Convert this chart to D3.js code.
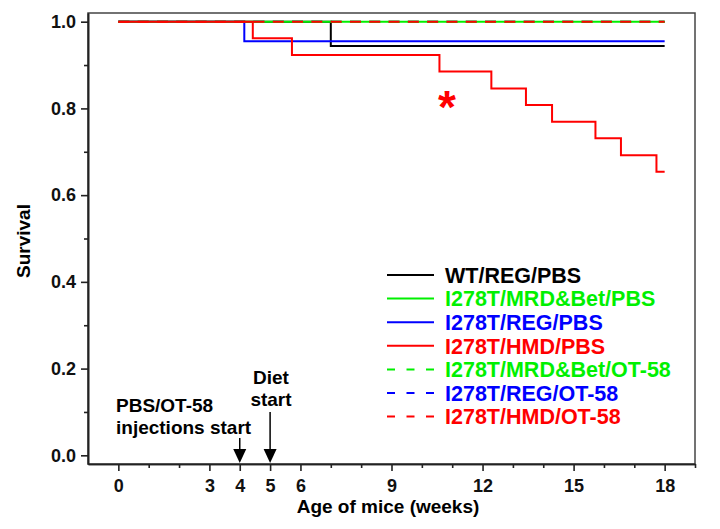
<!DOCTYPE html>
<meta charset="utf-8">
<style>
body { margin: 0; background: #fff; }
svg { font-family: "Liberation Sans", Arial, sans-serif; font-weight: bold; }
.axis text { font: bold 18px "Liberation Sans", Arial, sans-serif; fill: #111; }
.axis path, .axis line { stroke: #222; stroke-width: 1.6; }
.curve { fill: none; stroke-width: 2; }
</style>
<svg width="720" height="529"></svg>
<script src="https://cdn.jsdelivr.net/npm/d3@7"></script>
<script>

// weeks at which each curve steps, and survival after each step
var wtRegPbsT = [0, 7.0, 18],
    wtRegPbsS = [1, 0.944, 0.944];
var mrdPbsT = [0, 18],
    mrdPbsS = [1, 1];
var regPbsT = [0, 4.15, 18],
    regPbsS = [1, 0.955, 0.955];
var hmdPbsT = [0, 4.43, 5.72, 10.58, 12.29, 13.43, 14.29, 15.72, 16.56, 17.73, 18],
    hmdPbsS = [1, 0.962, 0.923, 0.885, 0.846, 0.808, 0.769, 0.731, 0.692, 0.654, 0.654];
var mrdOtT = [0, 18],
    mrdOtS = [1, 1];
var regOtT = [0, 18],
    regOtS = [1, 1];
var hmdOtT = [0, 18],
    hmdOtS = [1, 1];

var groupNames = ["WT/REG/PBS", "I278T/MRD&Bet/PBS", "I278T/REG/PBS", "I278T/HMD/PBS",
                  "I278T/MRD&Bet/OT-58", "I278T/REG/OT-58", "I278T/HMD/OT-58"];
var groupColors = ["#000000", "#00f000", "#0000ff", "#ff0000", "#00f000", "#0000ff", "#ff0000"];
var groupDashed = [false, false, false, false, true, true, true];

var xTickLabels = [0, 3, 4, 5, 6, 9, 12, 15, 18],
    yTickLabels = [0, 0.2, 0.4, 0.6, 0.8, 1.0];

var series = [
  {i: 0, t: wtRegPbsT, s: wtRegPbsS},
  {i: 1, t: mrdPbsT, s: mrdPbsS},
  {i: 2, t: regPbsT, s: regPbsS},
  {i: 3, t: hmdPbsT, s: hmdPbsS},
  {i: 4, t: mrdOtT, s: mrdOtS},
  {i: 5, t: regOtT, s: regOtS},
  {i: 6, t: hmdOtT, s: hmdOtS}
];
// draw order so the overlapping lines at 1.0 look like the original
var drawOrder = [0, 2, 5, 4, 1, 3, 6];

var svg = d3.select("svg");

var x = d3.scaleLinear().domain([-1, 19]).range([88, 695]),
    y = d3.scaleLinear().domain([-0.02, 1.02]).range([464, 13]);

// frame
svg.append("rect")
    .attr("x", x(-1)).attr("y", y(1.02))
    .attr("width", x(19) - x(-1)).attr("height", y(-0.02) - y(1.02))
    .attr("fill", "none").attr("stroke", "#444").attr("stroke-width", 1.5);

// axes
var xMinor = d3.range(0, 20).filter(function(d) { return xTickLabels.indexOf(d) < 0; });
var yMinor = [0.1, 0.3, 0.5, 0.7, 0.9];

svg.append("g").attr("class", "axis")
    .attr("transform", "translate(0," + y(-0.02) + ")")
    .call(d3.axisBottom(x).tickValues(xTickLabels).tickSize(7).tickSizeOuter(0).tickPadding(8));
svg.append("g").attr("class", "axis")
    .attr("transform", "translate(0," + y(-0.02) + ")")
    .call(d3.axisBottom(x).tickValues(xMinor).tickSize(4).tickSizeOuter(0).tickFormat(""));

svg.append("g").attr("class", "axis")
    .attr("transform", "translate(" + x(-1) + ",0)")
    .call(d3.axisLeft(y).tickValues(yTickLabels).tickSize(7).tickSizeOuter(0).tickPadding(5).tickFormat(d3.format(".1f")));
svg.append("g").attr("class", "axis")
    .attr("transform", "translate(" + x(-1) + ",0)")
    .call(d3.axisLeft(y).tickValues(yMinor).tickSize(4).tickSizeOuter(0).tickFormat(""));

svg.selectAll(".axis .domain").attr("stroke-width", 2);

// axis titles
svg.append("text")
    .attr("x", 388).attr("y", 513)
    .attr("text-anchor", "middle")
    .style("font-size", "19px")
    .text("Age of mice (weeks)");

svg.append("text")
    .attr("transform", "translate(30,241) rotate(-90)")
    .attr("text-anchor", "middle")
    .style("font-size", "19px")
    .text("Survival");

// survival curves
var line = d3.line()
    .curve(d3.curveStepAfter)
    .x(function(d) { return x(d[0]); })
    .y(function(d) { return y(d[1]); });

svg.append("g").selectAll("path")
    .data(drawOrder.map(function(k) { return series[k]; }))
  .enter().append("path")
    .attr("class", "curve")
    .attr("stroke", function(d) { return groupColors[d.i]; })
    .attr("stroke-dasharray", function(d) { return groupDashed[d.i] ? "11,8.3" : null; })
    .attr("d", function(d) { return line(d.t.map(function(t, j) { return [t, d.s[j]]; })); });

// significance marker
svg.append("text")
    .attr("x", 447).attr("y", 123)
    .attr("text-anchor", "middle")
    .attr("fill", "#ff0000")
    .style("font-size", "46px")
    .text("*");

// legend
var legend = svg.append("g").selectAll("g")
    .data(groupNames)
  .enter().append("g")
    .attr("transform", function(d, i) { return "translate(387," + (275 + i * 23.6) + ")"; });

legend.append("line")
    .attr("x1", 0).attr("x2", 47)
    .attr("stroke", function(d, i) { return groupColors[i]; })
    .attr("stroke-width", 2)
    .attr("stroke-dasharray", function(d, i) { return groupDashed[i] ? "8,11.5" : null; });

legend.append("text")
    .attr("x", 58).attr("dy", "0.36em")
    .attr("fill", function(d, i) { return groupColors[i]; })
    .style("font-size", "21.5px")
    .text(function(d) { return d; });

// treatment annotations
function arrow(wk, yTop) {
  var xa = x(wk), yTip = y(-0.02) - 1;
  svg.append("line")
      .attr("x1", xa).attr("x2", xa).attr("y1", yTop).attr("y2", yTip - 8)
      .attr("stroke", "#000").attr("stroke-width", 1.5);
  svg.append("path")
      .attr("d", "M" + (xa - 6.5) + "," + (yTip - 14) + "L" + (xa + 6.5) + "," + (yTip - 14) + "L" + xa + "," + yTip + "Z")
      .attr("fill", "#000");
}
arrow(4, 438);
arrow(5, 412);

svg.append("text").attr("x", 116).attr("y", 412).style("font-size", "19px").text("PBS/OT-58");
svg.append("text").attr("x", 116).attr("y", 434).style("font-size", "19px").text("injections start");
svg.append("text").attr("x", 271).attr("y", 384).attr("text-anchor", "middle").style("font-size", "19px").text("Diet");
svg.append("text").attr("x", 271).attr("y", 406).attr("text-anchor", "middle").style("font-size", "19px").text("start");

</script>
